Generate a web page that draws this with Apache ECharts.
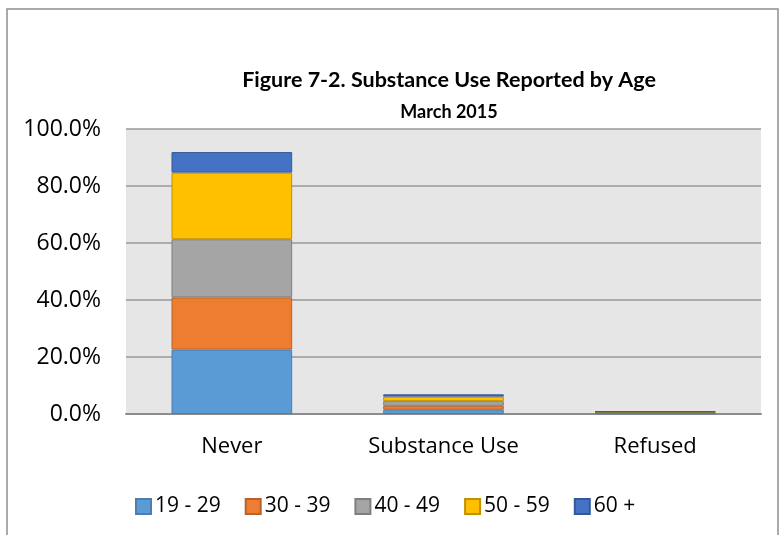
<!DOCTYPE html>
<html>
<head>
<meta charset="utf-8">
<script src="https://cdn.jsdelivr.net/npm/echarts@6/dist/echarts.min.js"></script>
<style>
  html, body { margin: 0; padding: 0; background: #ffffff; }
  #chart { width: 781px; height: 535px; }
</style>
</head>
<body>
<div id="chart"></div>
<script>
// Response categories on the x axis
const categories = ['Never', 'Substance Use', 'Refused'];

// Share of respondents (%) by age group, stacked per category
const age19to29 = [22.6, 1.5, 0.2];
const age30to39 = [18.3, 1.4, 0.2];
const age40to49 = [20.4, 1.6, 0.2];
const age50to59 = [23.4, 1.6, 0.1];
const age60plus = [7.2, 0.8, 0.2];

const seriesNames = ['19 - 29', '30 - 39', '40 - 49', '50 - 59', '60 +'];
const seriesData = [age19to29, age30to39, age40to49, age50to59, age60plus];
const fills = ['#5B9BD5', '#ED7D31', '#A5A5A5', '#FFC000', '#4472C4'];
const edges = ['#4A7FB0', '#B8622A', '#7F7F7F', '#C09100', '#34599A'];

// y-axis tick values
const yTicks = [0, 20, 40, 60, 80, 100];

const titleFont = 'Lato, "Liberation Sans", sans-serif';
const labelFont = '"Open Sans", "Liberation Sans", sans-serif';

const chart = echarts.init(document.getElementById('chart'), null, { renderer: 'canvas' });

chart.setOption({
  backgroundColor: '#ffffff',
  animation: false,
  graphic: [
    {
      type: 'rect',
      shape: { x: 7, y: 9, width: 771, height: 540 },
      style: { fill: null, stroke: '#8f8f8f', lineWidth: 1.5 },
      z: -1
    },
    {
      type: 'text',
      style: {
        text: 'Figure 7-2. Substance Use Reported by Age',
        x: 449, y: 80,
        textAlign: 'center', textVerticalAlign: 'middle',
        font: 'bold 21.5px ' + titleFont, fill: '#000000'
      }
    },
    {
      type: 'text',
      style: {
        text: 'March 2015',
        x: 449, y: 112,
        textAlign: 'center', textVerticalAlign: 'middle',
        font: 'bold 18px ' + titleFont, fill: '#000000'
      }
    }
  ],
  grid: {
    left: 126, right: 20, top: 129, bottom: 121,
    show: true, backgroundColor: '#E7E6E6', borderWidth: 0
  },
  legend: {
    top: 491,
    left: 130,
    itemWidth: 15,
    itemHeight: 15,
    itemGap: 24,
    icon: 'rect',
    textStyle: { fontFamily: labelFont, fontSize: 21, color: '#000000', padding: [0, 0, 0, -1] },
    data: seriesNames
  },
  xAxis: {
    type: 'category',
    data: categories,
    axisTick: { show: false },
    axisLine: { show: true, lineStyle: { color: '#8c8c8c', width: 2 } },
    axisLabel: { fontFamily: labelFont, fontSize: 22, color: '#000000', margin: 22 }
  },
  yAxis: {
    type: 'value',
    min: yTicks[0],
    max: yTicks[yTicks.length - 1],
    interval: 20,
    axisLine: { show: false },
    axisTick: { show: false },
    splitLine: { lineStyle: { color: '#999999', width: 1.5 } },
    axisLabel: {
      fontFamily: labelFont, fontSize: 23, color: '#000000', margin: 25,
      formatter: v => v.toFixed(1) + '%'
    }
  },
  series: seriesNames.map((name, i) => ({
    name,
    type: 'bar',
    stack: 'age',
    barWidth: '57%',
    data: seriesData[i],
    itemStyle: { color: fills[i], borderColor: edges[i], borderWidth: 1 }
  }))
});
</script>
</body>
</html>
